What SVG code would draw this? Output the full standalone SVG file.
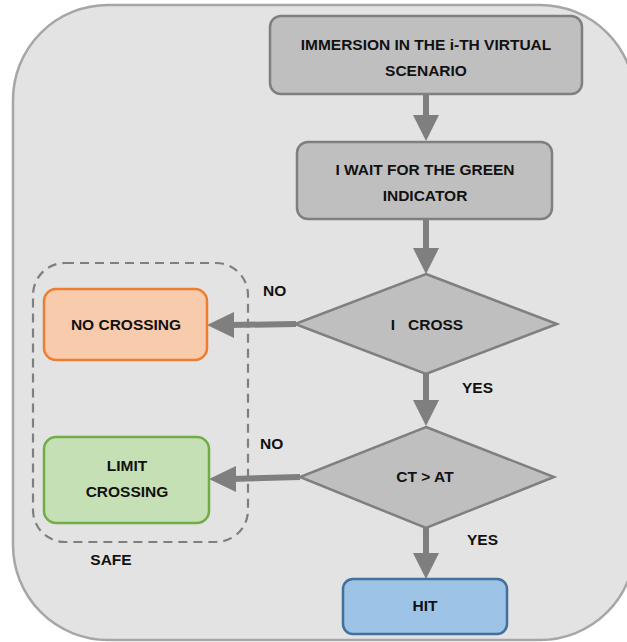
<svg xmlns="http://www.w3.org/2000/svg" width="627" height="642" viewBox="0 0 627 642">
<defs>
<style>
.t{font-family:"Liberation Sans",Arial,sans-serif;font-weight:bold;font-size:15.5px;fill:#111;text-anchor:middle}
.l{font-family:"Liberation Sans",Arial,sans-serif;font-weight:bold;font-size:15.5px;fill:#111}
.gray{fill:#bfbfbf;stroke:#7f7f7f;stroke-width:2.5}
.dia{fill:#bfbfbf;stroke:#7f7f7f;stroke-width:2.5}
.conn{stroke:#7f7f7f;stroke-width:6;fill:none}
.head{fill:#7f7f7f}
</style>
</defs>
<rect x="13" y="5" width="622" height="635" rx="95" ry="95" fill="#e3e3e3" stroke="#a6a6a6" stroke-width="2.5"/>
<g id="safe-group">
<rect x="33" y="263" width="215" height="279" rx="32" ry="32" fill="none" stroke="#7f7f7f" stroke-width="2.2" stroke-dasharray="9 6"/>
<text class="t" x="111" y="565">SAFE</text>
</g>
<g id="connectors">
<line class="conn" x1="426" y1="94" x2="426" y2="118"/>
<polygon class="head" points="413,115 439,115 426,141"/>
<line class="conn" x1="426" y1="219" x2="426" y2="250"/>
<polygon class="head" points="413,248 439,248 426,274"/>
<line class="conn" x1="296" y1="324" x2="230" y2="325"/>
<polygon class="head" points="234,312 234,338 207,325"/>
<line class="conn" x1="426" y1="374" x2="426" y2="403"/>
<polygon class="head" points="413,400 439,400 426,426"/>
<line class="conn" x1="300" y1="477" x2="232" y2="479"/>
<polygon class="head" points="236,466 236,492 209,479"/>
<line class="conn" x1="426" y1="528" x2="426" y2="555"/>
<polygon class="head" points="413,553 439,553 426,579"/>
<text class="l" x="263" y="296">NO</text>
<text class="l" x="260" y="449">NO</text>
<text class="l" x="462" y="393">YES</text>
<text class="l" x="467" y="545">YES</text>
</g>
<g id="immersion">
<rect class="gray" x="270" y="16" width="312" height="78" rx="11" ry="11"/>
<text class="t" x="426" y="50">IMMERSION IN THE i-TH VIRTUAL</text>
<text class="t" x="426" y="76">SCENARIO</text>
</g>
<g id="wait">
<rect class="gray" x="297" y="142" width="255" height="77" rx="11" ry="11"/>
<text class="t" x="425" y="175">I WAIT FOR THE GREEN</text>
<text class="t" x="425" y="201">INDICATOR</text>
</g>
<g id="cross">
<polygon class="dia" points="426,274 557,324 426,374 295,324"/>
<text class="t" x="427" y="330" xml:space="preserve">I   CROSS</text>
</g>
<g id="ctat">
<polygon class="dia" points="426,427 554,477 426,528 300,477"/>
<text class="t" x="425" y="482">CT &gt; AT</text>
</g>
<g id="no-crossing">
<rect x="44" y="289" width="163" height="71" rx="12" ry="12" fill="#f8cbad" stroke="#ed7d31" stroke-width="2.5"/>
<text class="t" x="126" y="330">NO CROSSING</text>
</g>
<g id="limit-crossing">
<rect x="44" y="437" width="165" height="86" rx="12" ry="12" fill="#c5e0b4" stroke="#70ad47" stroke-width="2.5"/>
<text class="t" x="127" y="471">LIMIT</text>
<text class="t" x="127" y="497">CROSSING</text>
</g>
<g id="hit">
<rect x="343" y="579" width="164" height="55" rx="10" ry="10" fill="#9dc3e6" stroke="#41719c" stroke-width="2.5"/>
<text class="t" x="425" y="611">HIT</text>
</g>
</svg>
